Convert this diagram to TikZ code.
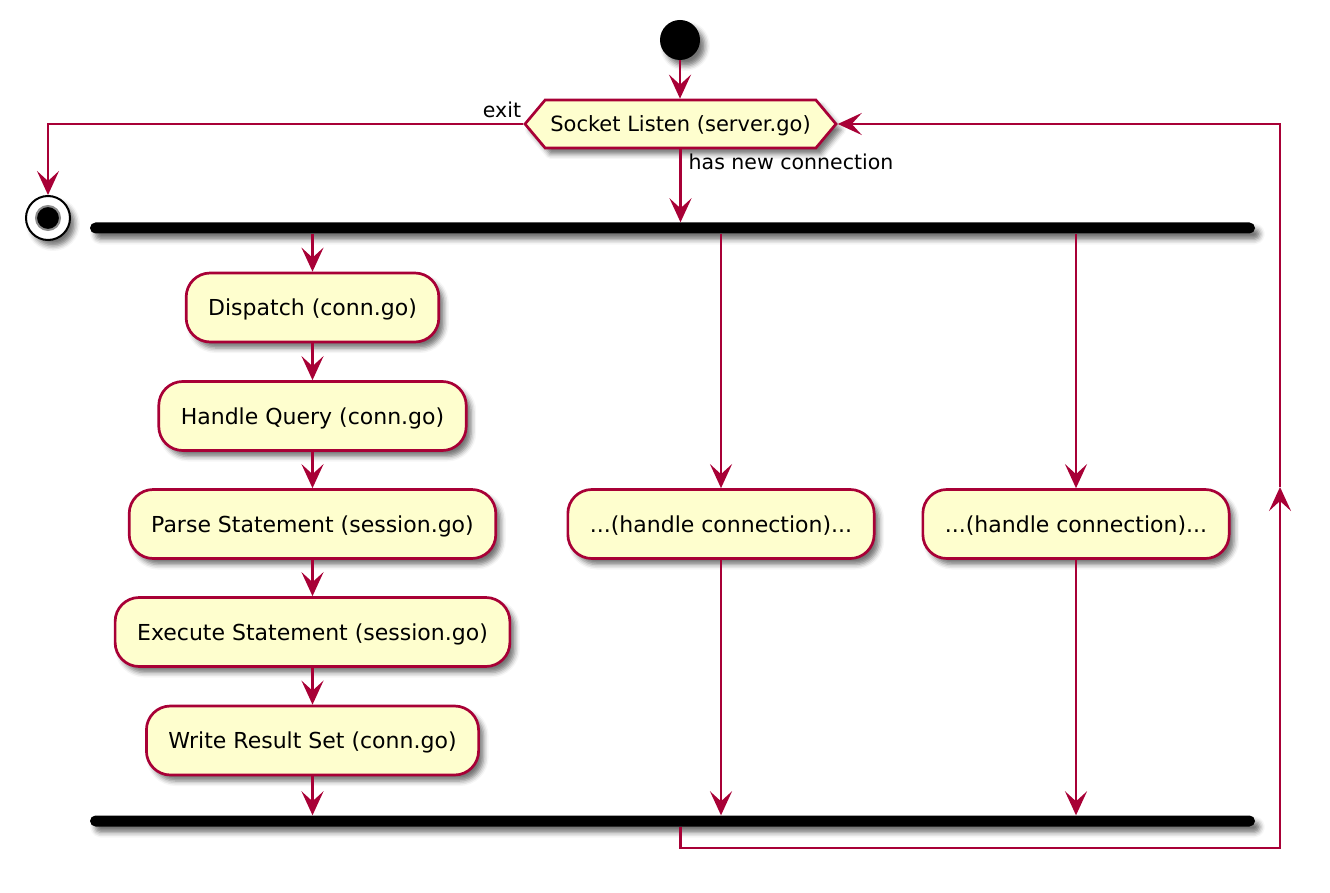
\documentclass[tikz,border=0pt]{standalone}
\usepackage{fontspec}
\setmainfont{DejaVu Sans}
\usetikzlibrary{arrows.meta,shapes.symbols,shadows.blur,calc}
\definecolor{pline}{HTML}{A80036}
\definecolor{pfill}{HTML}{FEFECE}
\begin{document}
\begin{tikzpicture}[x=1pt,y=-1pt,
  flow/.style={draw=pline, line width=2.7pt, -{Stealth[length=24pt,width=22pt,inset=10pt]}},
  sh/.style={blur shadow={shadow xshift=5pt, shadow yshift=-6pt, shadow blur radius=5pt, shadow opacity=55}},
  act/.style={draw=pline, fill=pfill, line width=2.7pt, rounded corners=24pt, minimum height=69pt, inner xsep=22pt, inner ysep=0pt, text height=16pt, text depth=0pt, font=\fontsize{22}{26}\selectfont, sh},
  bar/.style={fill=black, rounded corners=5.5pt, minimum height=11pt, minimum width=1165pt, inner sep=0pt, sh},
  lbl/.style={font=\fontsize{20.5}{24}\selectfont, inner sep=0pt},
]
\useasboundingbox (0,0) rectangle (1330,893);
\node[circle, fill=black, minimum size=40pt, inner sep=0pt, sh] (start) at (680,40) {};
\node[shape=signal, signal to=west and east, signal pointer angle=100, draw=pline, fill=pfill, line width=2.7pt, minimum width=311pt, minimum height=48pt, inner xsep=0pt, inner ysep=0pt, text height=15.3pt, text depth=0pt, font=\fontsize{21}{25}\selectfont, sh] (hex) at (680.5,124) {Socket Listen (server.go)};
\node[circle, draw=black, line width=2pt, fill=white, minimum size=44pt, inner sep=0pt, sh] (end) at (48,218) {};
\node[circle, fill=black, draw=black!45, line width=2pt, minimum size=24pt, inner sep=0pt] (endin) at (end) {};
\node[bar] (fork) at (672.5,228) {};
\node[bar] (join) at (672.5,821) {};
\node[act] (dispatch) at (312.5,307.5) {Dispatch (conn.go)};
\node[act] (query) at (312.5,416) {Handle Query (conn.go)};
\node[act] (parse) at (312.5,524) {Parse Statement (session.go)};
\node[act] (exec) at (312.5,632) {Execute Statement (session.go)};
\node[act] (write) at (312.5,740.5) {Write Result Set (conn.go)};
\node[act] (h1) at (721,524) {...(handle connection)...};
\node[act] (h2) at (1076,524) {...(handle connection)...};
\draw[flow] (start.south) -- (start.south |- hex.north);
\draw[flow] (hex.west) -| (end.north);
\node[lbl, anchor=base east] (exitlbl) at ($(hex.west)+(-2,-6)$) {exit};
\draw[flow] (hex.south) -- (hex.south |- fork.north);
\node[lbl, anchor=base west] (newlbl) at ($(hex.south)+(8,20)$) {has new connection};
\draw[flow] (dispatch.north |- fork.south) -- (dispatch.north);
\draw[flow] (dispatch.south) -- (query.north);
\draw[flow] (query.south) -- (parse.north);
\draw[flow] (parse.south) -- (exec.north);
\draw[flow] (exec.south) -- (write.north);
\draw[flow] (write.south) -- (write.south |- join.north);
\draw[flow] (h1.north |- fork.south) -- (h1.north);
\draw[flow] (h1.south) -- (h1.south |- join.north);
\draw[flow] (h2.north |- fork.south) -- (h2.north);
\draw[flow] (h2.south) -- (h2.south |- join.north);
\coordinate (lc) at (1280,848);
\coordinate (lm) at (1280,487);
\draw[flow] (hex.south |- join.south) |- (lc) -- (lm);
\draw[flow] (lm) |- (hex.east);
\end{tikzpicture}
\end{document}
